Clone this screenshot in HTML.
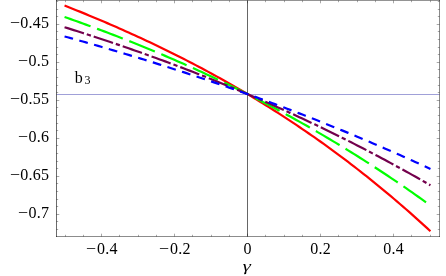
<!DOCTYPE html>
<html><head><meta charset="utf-8"><style>
html,body{margin:0;padding:0;background:#fff;}
body{width:446px;height:276px;position:relative;overflow:hidden;font-family:"Liberation Serif",serif;color:#000;}
.t{position:absolute;left:0;top:0;width:446px;height:276px;will-change:transform;transform:translateZ(0);}
.yl{position:absolute;right:396.75px;width:60px;text-align:right;font-size:16.0px;letter-spacing:0.25px;line-height:20px;height:20px;white-space:nowrap;}
.xl{position:absolute;top:238.5px;width:60px;text-align:center;font-size:16.0px;letter-spacing:0.25px;line-height:20px;height:20px;white-space:nowrap;}
.m{display:inline-block;transform:scaleX(1.12);transform-origin:right center;margin-right:0.8px;}
.yl .m{margin-right:0.4px;}
.b3{position:absolute;left:74.7px;top:68px;font-size:16px;line-height:20px;white-space:nowrap;}
.b3 span{font-size:12px;position:relative;top:1.3px;margin-left:1.9px;}
.gm{position:absolute;left:217.2px;width:60px;text-align:center;top:255.6px;font-size:15px;line-height:20px;transform:skewX(-14deg) scaleX(1.3);transform-origin:center;}
</style></head><body>
<svg width="446" height="276" viewBox="0 0 446 276" style="position:absolute;left:0;top:0">
<line x1="56.50" y1="94.5" x2="439.50" y2="94.5" stroke="#a0a0d8" stroke-width="1"/>
<line x1="247.5" y1="0.50" x2="247.5" y2="236.50" stroke="#666" stroke-width="1"/>
<path d="M64.56 5.53 L67.61 6.74 L70.66 7.95 L73.71 9.18 L76.76 10.41 L79.81 11.64 L82.86 12.89 L85.90 14.14 L88.95 15.40 L92.00 16.67 L95.05 17.94 L98.10 19.22 L101.15 20.51 L104.20 21.81 L107.25 23.12 L110.30 24.43 L113.35 25.76 L116.39 27.09 L119.44 28.43 L122.49 29.78 L125.54 31.14 L128.59 32.51 L131.64 33.89 L134.69 35.27 L137.74 36.67 L140.79 38.08 L143.84 39.49 L146.88 40.91 L149.93 42.35 L152.98 43.79 L156.03 45.25 L159.08 46.71 L162.13 48.19 L165.18 49.67 L168.23 51.17 L171.28 52.67 L174.32 54.19 L177.37 55.72 L180.42 57.26 L183.47 58.81 L186.52 60.37 L189.57 61.94 L192.62 63.52 L195.67 65.12 L198.72 66.73 L201.77 68.34 L204.81 69.98 L207.86 71.62 L210.91 73.27 L213.96 74.94 L217.01 76.62 L220.06 78.31 L223.11 80.01 L226.16 81.73 L229.21 83.46 L232.26 85.20 L235.30 86.95 L238.35 88.72 L241.40 90.50 L244.45 92.29 L247.50 94.10 L250.55 95.92 L253.60 97.75 L256.65 99.60 L259.70 101.46 L262.74 103.34 L265.79 105.23 L268.84 107.13 L271.89 109.05 L274.94 110.98 L277.99 112.93 L281.04 114.89 L284.09 116.87 L287.14 118.86 L290.19 120.87 L293.23 122.89 L296.28 124.92 L299.33 126.98 L302.38 129.04 L305.43 131.12 L308.48 133.22 L311.53 135.34 L314.58 137.47 L317.63 139.61 L320.68 141.77 L323.72 143.95 L326.77 146.14 L329.82 148.35 L332.87 150.58 L335.92 152.82 L338.97 155.08 L342.02 157.36 L345.07 159.65 L348.12 161.96 L351.16 164.29 L354.21 166.64 L357.26 169.00 L360.31 171.38 L363.36 173.78 L366.41 176.19 L369.46 178.62 L372.51 181.07 L375.56 183.54 L378.61 186.03 L381.65 188.54 L384.70 191.06 L387.75 193.60 L390.80 196.16 L393.85 198.74 L396.90 201.34 L399.95 203.96 L403.00 206.59 L406.05 209.25 L409.10 211.92 L412.14 214.62 L415.19 217.33 L418.24 220.06 L421.29 222.81 L424.34 225.59 L427.39 228.38 L430.44 231.19" fill="none" stroke="#ff0000" stroke-width="2.20"/>
<path d="M64.56 16.97 L67.61 18.04 L70.66 19.11 L73.71 20.20 L76.76 21.29 L79.81 22.38 L82.86 23.49 L85.90 24.60 L88.95 25.71 L92.00 26.83 L95.05 27.96 L98.10 29.10 L101.15 30.24 L104.20 31.39 L107.25 32.54 L110.30 33.71 L113.35 34.88 L116.39 36.05 L119.44 37.24 L122.49 38.43 L125.54 39.63 L128.59 40.83 L131.64 42.04 L134.69 43.26 L137.74 44.49 L140.79 45.73 L143.84 46.97 L146.88 48.22 L149.93 49.48 L152.98 50.74 L156.03 52.02 L159.08 53.30 L162.13 54.59 L165.18 55.88 L168.23 57.19 L171.28 58.50 L174.32 59.82 L177.37 61.15 L180.42 62.49 L183.47 63.83 L186.52 65.19 L189.57 66.55 L192.62 67.92 L195.67 69.30 L198.72 70.69 L201.77 72.08 L204.81 73.49 L207.86 74.90 L210.91 76.32 L213.96 77.76 L217.01 79.20 L220.06 80.65 L223.11 82.10 L226.16 83.57 L229.21 85.05 L232.26 86.53 L235.30 88.03 L238.35 89.53 L241.40 91.04 L244.45 92.57 L247.50 94.10 L250.55 95.64 L253.60 97.19 L256.65 98.75 L259.70 100.32 L262.74 101.91 L265.79 103.50 L268.84 105.10 L271.89 106.71 L274.94 108.33 L277.99 109.96 L281.04 111.60 L284.09 113.25 L287.14 114.91 L290.19 116.58 L293.23 118.26 L296.28 119.95 L299.33 121.65 L302.38 123.36 L305.43 125.08 L308.48 126.82 L311.53 128.56 L314.58 130.32 L317.63 132.08 L320.68 133.86 L323.72 135.64 L326.77 137.44 L329.82 139.25 L332.87 141.07 L335.92 142.90 L338.97 144.74 L342.02 146.60 L345.07 148.46 L348.12 150.34 L351.16 152.23 L354.21 154.12 L357.26 156.03 L360.31 157.96 L363.36 159.89 L366.41 161.83 L369.46 163.79 L372.51 165.76 L375.56 167.74 L378.61 169.73 L381.65 171.74 L384.70 173.75 L387.75 175.78 L390.80 177.82 L393.85 179.87 L396.90 181.94 L399.95 184.02 L403.00 186.10 L406.05 188.21 L409.10 190.32 L412.14 192.45 L415.19 194.59 L418.24 196.74 L421.29 198.90 L424.34 201.08 L427.39 203.27 L430.44 205.47" fill="none" stroke="#00ff00" stroke-width="2.20" stroke-dasharray="27.6 6.95"/>
<path d="M64.56 27.21 L67.61 28.16 L70.66 29.12 L73.71 30.08 L76.76 31.05 L79.81 32.02 L82.86 33.00 L85.90 33.98 L88.95 34.97 L92.00 35.96 L95.05 36.96 L98.10 37.96 L101.15 38.97 L104.20 39.99 L107.25 41.00 L110.30 42.03 L113.35 43.06 L116.39 44.09 L119.44 45.13 L122.49 46.18 L125.54 47.23 L128.59 48.29 L131.64 49.35 L134.69 50.42 L137.74 51.49 L140.79 52.57 L143.84 53.65 L146.88 54.74 L149.93 55.84 L152.98 56.94 L156.03 58.05 L159.08 59.16 L162.13 60.28 L165.18 61.40 L168.23 62.53 L171.28 63.67 L174.32 64.81 L177.37 65.96 L180.42 67.12 L183.47 68.28 L186.52 69.44 L189.57 70.62 L192.62 71.80 L195.67 72.98 L198.72 74.17 L201.77 75.37 L204.81 76.57 L207.86 77.78 L210.91 79.00 L213.96 80.22 L217.01 81.45 L220.06 82.69 L223.11 83.93 L226.16 85.18 L229.21 86.43 L232.26 87.69 L235.30 88.96 L238.35 90.24 L241.40 91.52 L244.45 92.81 L247.50 94.10 L250.55 95.40 L253.60 96.71 L256.65 98.02 L259.70 99.35 L262.74 100.68 L265.79 102.01 L268.84 103.35 L271.89 104.70 L274.94 106.06 L277.99 107.42 L281.04 108.79 L284.09 110.17 L287.14 111.56 L290.19 112.95 L293.23 114.35 L296.28 115.75 L299.33 117.17 L302.38 118.59 L305.43 120.02 L308.48 121.45 L311.53 122.90 L314.58 124.35 L317.63 125.80 L320.68 127.27 L323.72 128.74 L326.77 130.22 L329.82 131.71 L332.87 133.20 L335.92 134.71 L338.97 136.22 L342.02 137.74 L345.07 139.26 L348.12 140.80 L351.16 142.34 L354.21 143.89 L357.26 145.44 L360.31 147.01 L363.36 148.58 L366.41 150.16 L369.46 151.75 L372.51 153.35 L375.56 154.95 L378.61 156.57 L381.65 158.19 L384.70 159.82 L387.75 161.46 L390.80 163.10 L393.85 164.75 L396.90 166.42 L399.95 168.09 L403.00 169.77 L406.05 171.45 L409.10 173.15 L412.14 174.85 L415.19 176.56 L418.24 178.29 L421.29 180.01 L424.34 181.75 L427.39 183.50 L430.44 185.25" fill="none" stroke="#73004d" stroke-width="2.20" stroke-dasharray="20.3 3.0 4.3 3.0"/>
<path d="M64.56 36.45 L67.61 37.29 L70.66 38.13 L73.71 38.98 L76.76 39.83 L79.81 40.69 L82.86 41.55 L85.90 42.41 L88.95 43.28 L92.00 44.15 L95.05 45.03 L98.10 45.91 L101.15 46.79 L104.20 47.67 L107.25 48.57 L110.30 49.46 L113.35 50.36 L116.39 51.26 L119.44 52.17 L122.49 53.08 L125.54 53.99 L128.59 54.91 L131.64 55.83 L134.69 56.76 L137.74 57.69 L140.79 58.63 L143.84 59.57 L146.88 60.51 L149.93 61.46 L152.98 62.41 L156.03 63.37 L159.08 64.33 L162.13 65.29 L165.18 66.26 L168.23 67.23 L171.28 68.21 L174.32 69.19 L177.37 70.18 L180.42 71.17 L183.47 72.16 L186.52 73.16 L189.57 74.17 L192.62 75.17 L195.67 76.19 L198.72 77.20 L201.77 78.23 L204.81 79.25 L207.86 80.28 L210.91 81.32 L213.96 82.36 L217.01 83.40 L220.06 84.45 L223.11 85.50 L226.16 86.56 L229.21 87.62 L232.26 88.69 L235.30 89.76 L238.35 90.84 L241.40 91.92 L244.45 93.01 L247.50 94.10 L250.55 95.20 L253.60 96.30 L256.65 97.40 L259.70 98.51 L262.74 99.63 L265.79 100.75 L268.84 101.87 L271.89 103.00 L274.94 104.14 L277.99 105.28 L281.04 106.42 L284.09 107.57 L287.14 108.72 L290.19 109.88 L293.23 111.05 L296.28 112.22 L299.33 113.39 L302.38 114.57 L305.43 115.75 L308.48 116.94 L311.53 118.14 L314.58 119.34 L317.63 120.54 L320.68 121.75 L323.72 122.97 L326.77 124.19 L329.82 125.42 L332.87 126.65 L335.92 127.88 L338.97 129.13 L342.02 130.37 L345.07 131.63 L348.12 132.88 L351.16 134.15 L354.21 135.41 L357.26 136.69 L360.31 137.97 L363.36 139.25 L366.41 140.54 L369.46 141.84 L372.51 143.14 L375.56 144.44 L378.61 145.76 L381.65 147.07 L384.70 148.40 L387.75 149.72 L390.80 151.06 L393.85 152.40 L396.90 153.74 L399.95 155.09 L403.00 156.45 L406.05 157.81 L409.10 159.18 L412.14 160.56 L415.19 161.93 L418.24 163.32 L421.29 164.71 L424.34 166.11 L427.39 167.51 L430.44 168.92" fill="none" stroke="#0000ff" stroke-width="2.20" stroke-dasharray="8.8 6.53"/>
<line x1="56.00" y1="236.50" x2="440.00" y2="236.50" stroke="#000" stroke-opacity="0.45" stroke-width="1"/>
<line x1="56.50" y1="0.00" x2="56.50" y2="237.00" stroke="#000" stroke-opacity="0.58" stroke-width="1"/>
<line x1="56.00" y1="0.50" x2="440.00" y2="0.50" stroke="#000" stroke-opacity="0.42" stroke-width="1"/>
<line x1="439.50" y1="0.00" x2="439.50" y2="237.00" stroke="#000" stroke-opacity="0.46" stroke-width="1"/>
<path d="M65.50 236.50 v-1.70 M65.50 0.50 v1.70 M83.50 236.50 v-1.70 M83.50 0.50 v1.70 M101.50 236.50 v-2.80 M101.50 0.50 v2.80 M119.50 236.50 v-1.70 M119.50 0.50 v1.70 M138.50 236.50 v-1.70 M138.50 0.50 v1.70 M156.50 236.50 v-1.70 M156.50 0.50 v1.70 M174.50 236.50 v-2.80 M174.50 0.50 v2.80 M192.50 236.50 v-1.70 M192.50 0.50 v1.70 M211.50 236.50 v-1.70 M211.50 0.50 v1.70 M229.50 236.50 v-1.70 M229.50 0.50 v1.70 M247.50 236.50 v-2.80 M247.50 0.50 v2.80 M265.50 236.50 v-1.70 M265.50 0.50 v1.70 M284.50 236.50 v-1.70 M284.50 0.50 v1.70 M302.50 236.50 v-1.70 M302.50 0.50 v1.70 M320.50 236.50 v-2.80 M320.50 0.50 v2.80 M338.50 236.50 v-1.70 M338.50 0.50 v1.70 M357.50 236.50 v-1.70 M357.50 0.50 v1.70 M375.50 236.50 v-1.70 M375.50 0.50 v1.70 M393.50 236.50 v-2.80 M393.50 0.50 v2.80 M411.50 236.50 v-1.70 M411.50 0.50 v1.70 M430.50 236.50 v-1.70 M430.50 0.50 v1.70 M56.50 229.50 h1.70 M439.50 229.50 h-1.70 M56.50 221.50 h1.70 M439.50 221.50 h-1.70 M56.50 214.50 h2.80 M439.50 214.50 h-2.80 M56.50 206.50 h1.70 M439.50 206.50 h-1.70 M56.50 199.50 h1.70 M439.50 199.50 h-1.70 M56.50 191.50 h1.70 M439.50 191.50 h-1.70 M56.50 183.50 h1.70 M439.50 183.50 h-1.70 M56.50 176.50 h2.80 M439.50 176.50 h-2.80 M56.50 168.50 h1.70 M439.50 168.50 h-1.70 M56.50 161.50 h1.70 M439.50 161.50 h-1.70 M56.50 153.50 h1.70 M439.50 153.50 h-1.70 M56.50 145.50 h1.70 M439.50 145.50 h-1.70 M56.50 138.50 h2.80 M439.50 138.50 h-2.80 M56.50 130.50 h1.70 M439.50 130.50 h-1.70 M56.50 123.50 h1.70 M439.50 123.50 h-1.70 M56.50 115.50 h1.70 M439.50 115.50 h-1.70 M56.50 107.50 h1.70 M439.50 107.50 h-1.70 M56.50 100.50 h2.80 M439.50 100.50 h-2.80 M56.50 92.50 h1.70 M439.50 92.50 h-1.70 M56.50 85.50 h1.70 M439.50 85.50 h-1.70 M56.50 77.50 h1.70 M439.50 77.50 h-1.70 M56.50 69.50 h1.70 M439.50 69.50 h-1.70 M56.50 62.50 h2.80 M439.50 62.50 h-2.80 M56.50 54.50 h1.70 M439.50 54.50 h-1.70 M56.50 47.50 h1.70 M439.50 47.50 h-1.70 M56.50 39.50 h1.70 M439.50 39.50 h-1.70 M56.50 31.50 h1.70 M439.50 31.50 h-1.70 M56.50 24.50 h2.80 M439.50 24.50 h-2.80 M56.50 16.50 h1.70 M439.50 16.50 h-1.70 M56.50 9.50 h1.70 M439.50 9.50 h-1.70 M56.50 1.50 h1.70 M439.50 1.50 h-1.70" stroke="#000" stroke-opacity="0.34" stroke-width="1" fill="none"/>
</svg>
<div class="t">
<div class="yl" style="top:13.20px"><span class="m">−</span>0.45</div>
<div class="yl" style="top:51.20px"><span class="m">−</span>0.5</div>
<div class="yl" style="top:89.20px"><span class="m">−</span>0.55</div>
<div class="yl" style="top:127.20px"><span class="m">−</span>0.6</div>
<div class="yl" style="top:165.20px"><span class="m">−</span>0.65</div>
<div class="yl" style="top:203.20px"><span class="m">−</span>0.7</div>
<div class="xl" style="left:72.25px"><span class="m">−</span>0.4</div>
<div class="xl" style="left:145.25px"><span class="m">−</span>0.2</div>
<div class="xl" style="left:217.50px">0</div>
<div class="xl" style="left:290.50px">0.2</div>
<div class="xl" style="left:363.50px">0.4</div>
<div class="b3">b<span>3</span></div>
<div class="gm">γ</div>
</div>
</body></html>
